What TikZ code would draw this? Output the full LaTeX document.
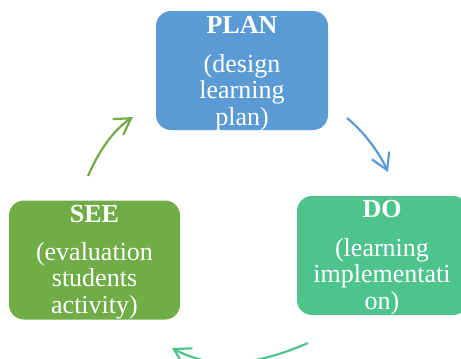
\documentclass[tikz,border=0pt]{standalone}
\usepackage{fontspec}
\setmainfont{Liberation Serif}
\usetikzlibrary{arrows.meta}
\definecolor{planblue}{RGB}{91,155,213}
\definecolor{dogreen}{RGB}{78,196,141}
\definecolor{seegreen}{RGB}{112,173,71}
\tikzset{
  box/.style={rectangle, rounded corners=15pt, draw=none, inner sep=0pt,
    minimum width=#1, minimum height=119pt},
  txt/.style={text=white, align=center, anchor=base, inner sep=0pt,
    font=\fontsize{26}{26.7}\selectfont},
  cyc/.style={line width=2.2pt, -{Straight Barb[length=16pt,width=19pt,line width=2.2pt]}}
}
\begin{document}
\begin{tikzpicture}[x=1pt,y=-1pt]
\useasboundingbox (0,0) rectangle (461,359);
\clip (0,0) rectangle (461,359);
% boxes
\node[box=172pt, fill=planblue] (plan) at (242,70.5) {};
\node[box=171pt, fill=dogreen] (do) at (382.5,255.5) {};
\node[box=171pt, fill=seegreen] (see) at (94.5,260) {};
% texts (multi-line nodes: base = baseline of last line)
\node[txt] (plantitle) at (242,33) {\textbf{PLAN}};
\node[txt] (plantext) at (242,125.4) {(design\\learning\\plan)};
\node[txt] (dotitle) at (382,217) {\textbf{DO}};
\node[txt] (dotext) at (382,309.4) {(learning\\implementati\\on)};
\node[txt] (seetitle) at (94.5,222) {\textbf{SEE}};
\node[txt] (seetext) at (94.5,313.4) {(evaluation\\students\\activity)};
% arrows
\coordinate (a1s) at (347,118);
\coordinate (a1e) at (388,172);
\coordinate (a2s) at (308,343);
\coordinate (a2e) at (172,348);
\coordinate (a3s) at (88,176);
\coordinate (a3e) at (133,117);
\draw[cyc, draw=planblue] (a1s) .. controls (364,132) and (379,152) .. (a1e);
\draw[cyc, draw=dogreen] (a2s) .. controls (262,363) and (216,372) .. (a2e);
\draw[cyc, draw=seegreen] (a3s) .. controls (98,153) and (112,131) .. (a3e);
\end{tikzpicture}
\end{document}
